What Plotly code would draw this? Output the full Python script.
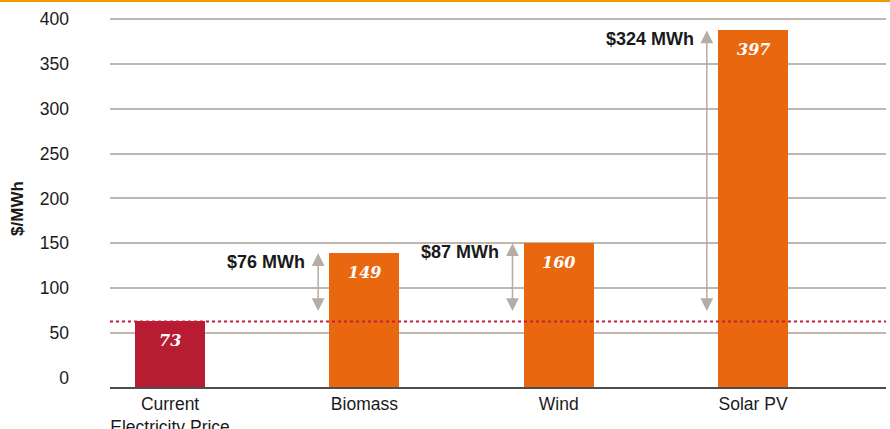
import plotly.graph_objects as go

# ---- data ----
categories = ["Current<br>Electricity Price", "Biomass", "Wind", "Solar PV"]
costs = [73, 149, 160, 397]          # $/MWh
current_price = costs[0]
y_ticks = [0, 50, 100, 150, 200, 250, 300, 350, 400]
bar_base = -10                        # bars start slightly below the 0 tick, as in the source

# ---- styling ----
bar_colors = ["#b71c32", "#e9680f", "#e9680f", "#e9680f"]
grid_color = "#bfb8b1"
arrow_color = "#b4aca5"
arrow_dx = -0.238

x_pos = list(range(len(categories)))

fig = go.Figure()
fig.add_trace(go.Bar(
    x=x_pos, y=costs, base=bar_base, width=0.36,
    marker=dict(color=bar_colors, line=dict(width=0)),
    hoverinfo="skip", showlegend=False,
))

annotations = []
for i, c in enumerate(costs):
    top = c + bar_base
    annotations.append(dict(
        x=i, y=top, xref="x", yref="y", text=str(c), showarrow=False,
        yanchor="middle", yshift=-19,
        font=dict(family="DejaVu Serif", size=16, color="white", weight="bold", style="italic"),
    ))
    if i == 0:
        continue
    ax_x = i + arrow_dx
    annotations.append(dict(
        x=ax_x, y=top, xref="x", yref="y", ax=ax_x, ay=current_price,
        axref="x", ayref="y", text="", showarrow=True,
        arrowhead=2, startarrowhead=2, arrowside="end+start",
        arrowwidth=1.5, arrowsize=1.7, startarrowsize=1.7,
        arrowcolor=arrow_color, standoff=0, startstandoff=0,
    ))
    annotations.append(dict(
        x=ax_x, y=top, xref="x", yref="y", text=f"${c - current_price} MWh",
        showarrow=False, xanchor="right", yanchor="middle", xshift=-11, yshift=-9,
        font=dict(family="Liberation Sans, Arial", size=18, color="#1a1a1a", weight="bold"),
    ))

# y axis title
annotations.append(dict(
    x=-0.1186, y=0.484, xref="paper", yref="paper", text="<b>$/MWh</b>",
    textangle=-90, showarrow=False, xanchor="center", yanchor="middle",
    font=dict(family="Liberation Sans, Arial", size=17, color="#1a1a1a"),
))

shapes = [
    # dotted current price line
    dict(type="line", xref="paper", yref="y", x0=0, x1=1,
         y0=current_price + bar_base, y1=current_price + bar_base,
         line=dict(color="#c41e3a", width=2, dash="dot"), layer="above"),
    # orange rule at the top
    dict(type="line", xref="paper", yref="paper", x0=-0.1418, x1=1.006,
         y0=1.043, y1=1.043, line=dict(color="#f29a00", width=2)),
]

fig.update_layout(
    template="none",
    width=890, height=429,
    margin=dict(l=110, r=4, t=17, b=42, autoexpand=False),
    paper_bgcolor="white", plot_bgcolor="white",
    font=dict(family="Liberation Sans, Arial", size=17.5, color="#1a1a1a"),
    annotations=annotations, shapes=shapes,
    bargap=0,
    xaxis=dict(
        range=[-0.309, 3.684], tickmode="array", tickvals=x_pos, ticktext=categories,
        showgrid=False, zeroline=False, showline=True, linecolor="#4d4d4d", linewidth=2,
        ticks="", automargin=False,
        fixedrange=True,
    ),
    yaxis=dict(
        range=[bar_base, 402], tickmode="array", tickvals=y_ticks,
        ticktext=[str(t) for t in y_ticks],
        showgrid=True, gridcolor=grid_color, gridwidth=1.5,
        zeroline=True, zerolinecolor="white", zerolinewidth=3,
        showline=False, ticks="", ticklabelstandoff=40, automargin=False,
        fixedrange=True,
    ),
)

fig.write_html(
    "out.html",
    config={"displayModeBar": False},
    post_script="document.body.style.margin='0';document.body.style.overflow='hidden';",
)
